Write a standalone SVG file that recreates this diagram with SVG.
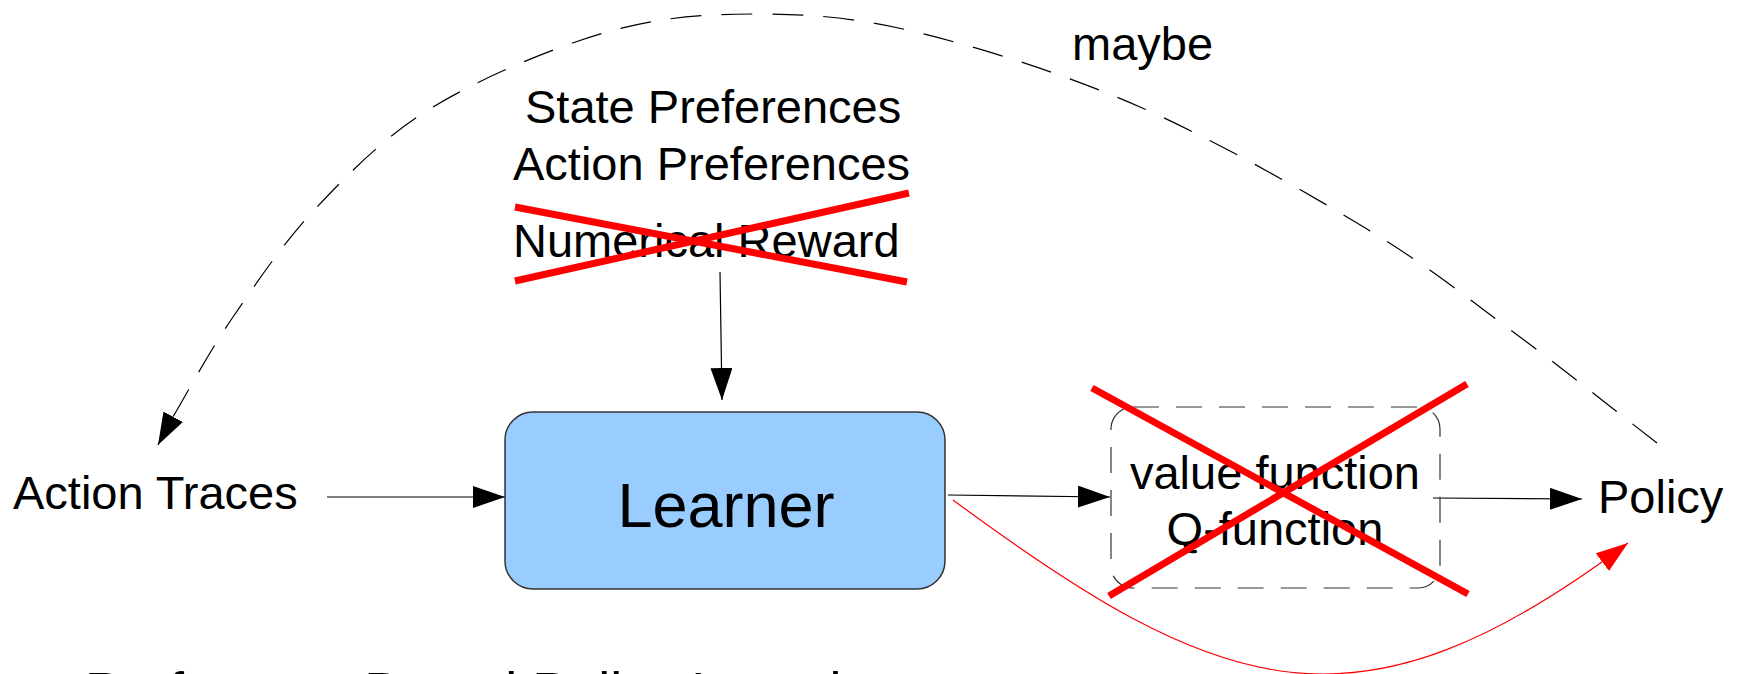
<svg xmlns="http://www.w3.org/2000/svg" width="1739" height="674" viewBox="0 0 1739 674">
<defs>
<style>
text{font-family:"Liberation Sans",Arial,sans-serif;fill:#000}
.t47{font-size:47px}
.conn{fill:none;stroke:#000;stroke-width:1.2}
.dash{stroke-dasharray:31 20}
.cross{stroke:#ff0000;stroke-width:7;stroke-linecap:butt}
</style>
<marker id="ah" markerUnits="userSpaceOnUse" markerWidth="34" markerHeight="24" refX="32" refY="11" orient="auto" viewBox="0 0 34 24">
<path d="M0,0 L32,11 L0,22 Z" fill="#000"/>
</marker>
<marker id="ahr" markerUnits="userSpaceOnUse" markerWidth="34" markerHeight="24" refX="32" refY="11" orient="auto" viewBox="0 0 34 24">
<path d="M0,0 L32,11 L0,22 Z" fill="#ff0000"/>
</marker>
</defs>
<rect width="1739" height="674" fill="#fff"/>

<g id="connectors">
<path class="conn dash" marker-end="url(#ah)" d="M1657,443 C1611.3,407.7 1568.3,372.7 1520,337 C1471.7,301.3 1430.3,267.3 1367,229 C1303.7,190.7 1214.5,139.7 1140,107 C1065.5,74.3 983.3,48.5 920,33 C856.7,17.5 812.2,14.2 760,14 C707.8,13.8 661.5,16.5 607,32 C552.5,47.5 481.3,77.8 433,107 C384.7,136.2 350.3,172 317,207 C283.7,242 256.3,283.2 233,317 C209.7,350.8 189.5,388.7 177,410 C164.5,431.3 164.3,433.3 158,445"/>
<path class="conn" marker-end="url(#ah)" d="M720,272 L722,400"/>
<path class="conn" marker-end="url(#ah)" d="M327,497 L505,497"/>
<path class="conn" marker-end="url(#ah)" d="M948,495 L1110,497"/>
<path class="conn" marker-end="url(#ah)" d="M1433,498 L1582,499"/>
<path fill="none" stroke="#ff0000" stroke-width="1.2" marker-end="url(#ahr)" d="M953,500 C1224,700 1358,745 1628,543"/>
</g>

<g id="maybe-label">
<text class="t47" x="1072" y="60">maybe</text>
</g>

<g id="feedback">
<text class="t47" x="525" y="123">State Preferences</text>
<text class="t47" x="513" y="180">Action Preferences</text>
<text class="t47" x="513" y="257">Numerical Reward</text>
<line class="cross" x1="515" y1="207" x2="907" y2="282"/>
<line class="cross" x1="515" y1="281" x2="909" y2="193"/>
</g>

<g id="action-traces">
<text class="t47" x="13" y="509">Action Traces</text>
</g>

<g id="learner">
<rect x="505" y="412" width="440" height="177" rx="28" ry="28" fill="#99ccff" stroke="#333" stroke-width="1.5"/>
<text x="726" y="527" font-size="63" text-anchor="middle">Learner</text>
</g>

<g id="value-function">
<rect x="1111" y="407" width="329" height="181" rx="22" ry="22" fill="none" stroke="#333" stroke-width="1.2" stroke-dasharray="26 17"/>
<text class="t47" x="1275" y="489" text-anchor="middle">value function</text>
<text class="t47" x="1275" y="545" text-anchor="middle">Q-function</text>
<line class="cross" x1="1092" y1="388" x2="1468" y2="594"/>
<line class="cross" x1="1467" y1="384" x2="1109" y2="596"/>
</g>

<g id="policy">
<text class="t47" x="1598" y="513">Policy</text>
</g>

<g id="title">
<text x="85" y="710" font-size="54">Preference Based Policy Learning</text>
</g>
</svg>
